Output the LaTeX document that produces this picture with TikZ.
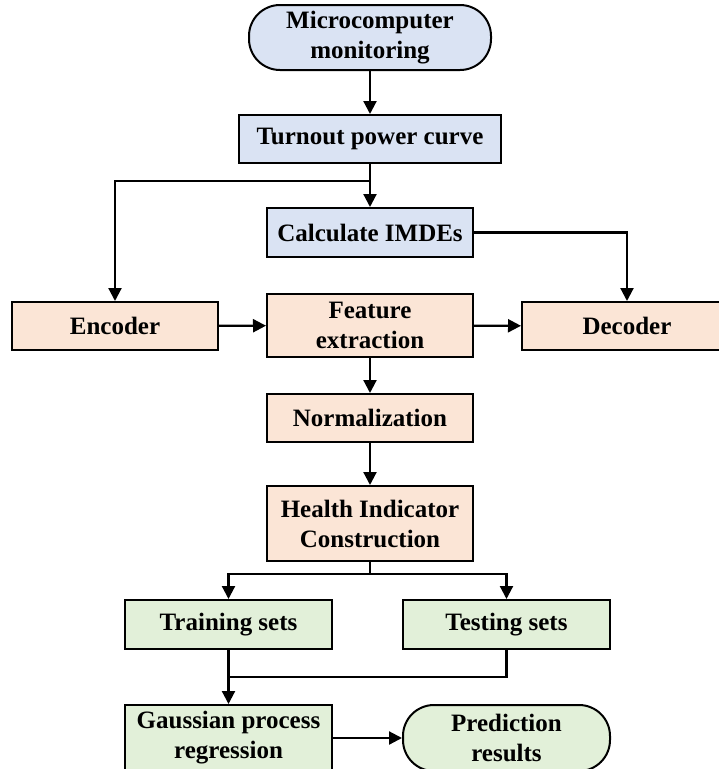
\documentclass[tikz,border=0pt]{standalone}
\usepackage{fontspec}
\setmainfont{Liberation Serif}
\usepackage{tikz}
\usetikzlibrary{arrows.meta, calc}
\definecolor{boxblue}{RGB}{218,227,243}
\definecolor{boxorange}{RGB}{251,229,214}
\definecolor{boxgreen}{RGB}{226,240,217}

\begin{document}
\begin{tikzpicture}[%
    x=1pt, y=-1pt,
    box/.style={
      draw=black,
      line width=2pt,
      inner sep=0pt,
      align=center,
      font=\fontsize{25}{30}\selectfont\bfseries
    },
    bluebox/.style={box, fill=boxblue},
    orangebox/.style={box, fill=boxorange},
    greenbox/.style={box, fill=boxgreen},
    flow/.style={-{Triangle[length=13pt,width=13pt]}, line width=2.2pt},
    wire/.style={line width=2.2pt}]
    \path[use as bounding box, clip] (0,0) rectangle (719,769);

    \node[bluebox, rounded corners=31pt, minimum width=242, minimum height=65] at (370,37.5) (micro) {Microcomputer\\monitoring};
    \node[bluebox, minimum width=262, minimum height=48] at (370,139) (curve) {Turnout power curve};
    \node[bluebox, minimum width=206, minimum height=49] at (370,232.5) (imde) {Calculate IMDEs};
    \node[orangebox, minimum width=206, minimum height=48] at (115,326) (encoder) {Encoder};
    \node[orangebox, minimum width=206, minimum height=63] at (370,325.5) (feature) {Feature\\extraction};
    \node[orangebox, minimum width=210, minimum height=48] at (627,326) (decoder) {Decoder};
    \node[orangebox, minimum width=206, minimum height=48] at (370,418) (norm) {Normalization};
    \node[orangebox, minimum width=206, minimum height=75] at (370,523.5) (health) {Health Indicator\\Construction};
    \node[greenbox, minimum width=207, minimum height=49] at (228.5,624.5) (train) {Training sets};
    \node[greenbox, minimum width=207, minimum height=49] at (506.5,624.5) (test) {Testing sets};
    \node[greenbox, minimum width=207, minimum height=66] at (228.5,738) (gpr) {Gaussian process\\regression};
    \node[greenbox, rounded corners=31pt, minimum width=207, minimum height=66] at (506.5,738) (pred) {Prediction\\results};

    \coordinate (split) at (370,181);
    \coordinate (fork) at (370,574);
    \coordinate (join) at (228.5,677);

    \draw[flow] (micro) -- (curve);
    \draw[flow] (curve) -- (imde);
    \draw[flow] (split) -| (encoder.north);
    \draw[flow] (imde.east) -| (decoder.north);
    \draw[flow] (encoder) -- (feature);
    \draw[flow] (feature) -- (decoder);
    \draw[flow] (feature) -- (norm);
    \draw[flow] (norm) -- (health);
    \draw[wire] (health.south) -- (fork);
    \draw[flow] (fork) -| (train.north);
    \draw[flow] (fork) -| (test.north);
    \draw[flow] (train) -- (gpr);
    \draw[wire] (test.south) |- (join);
    \draw[flow] (gpr) -- (pred);
\end{tikzpicture}
\end{document}
